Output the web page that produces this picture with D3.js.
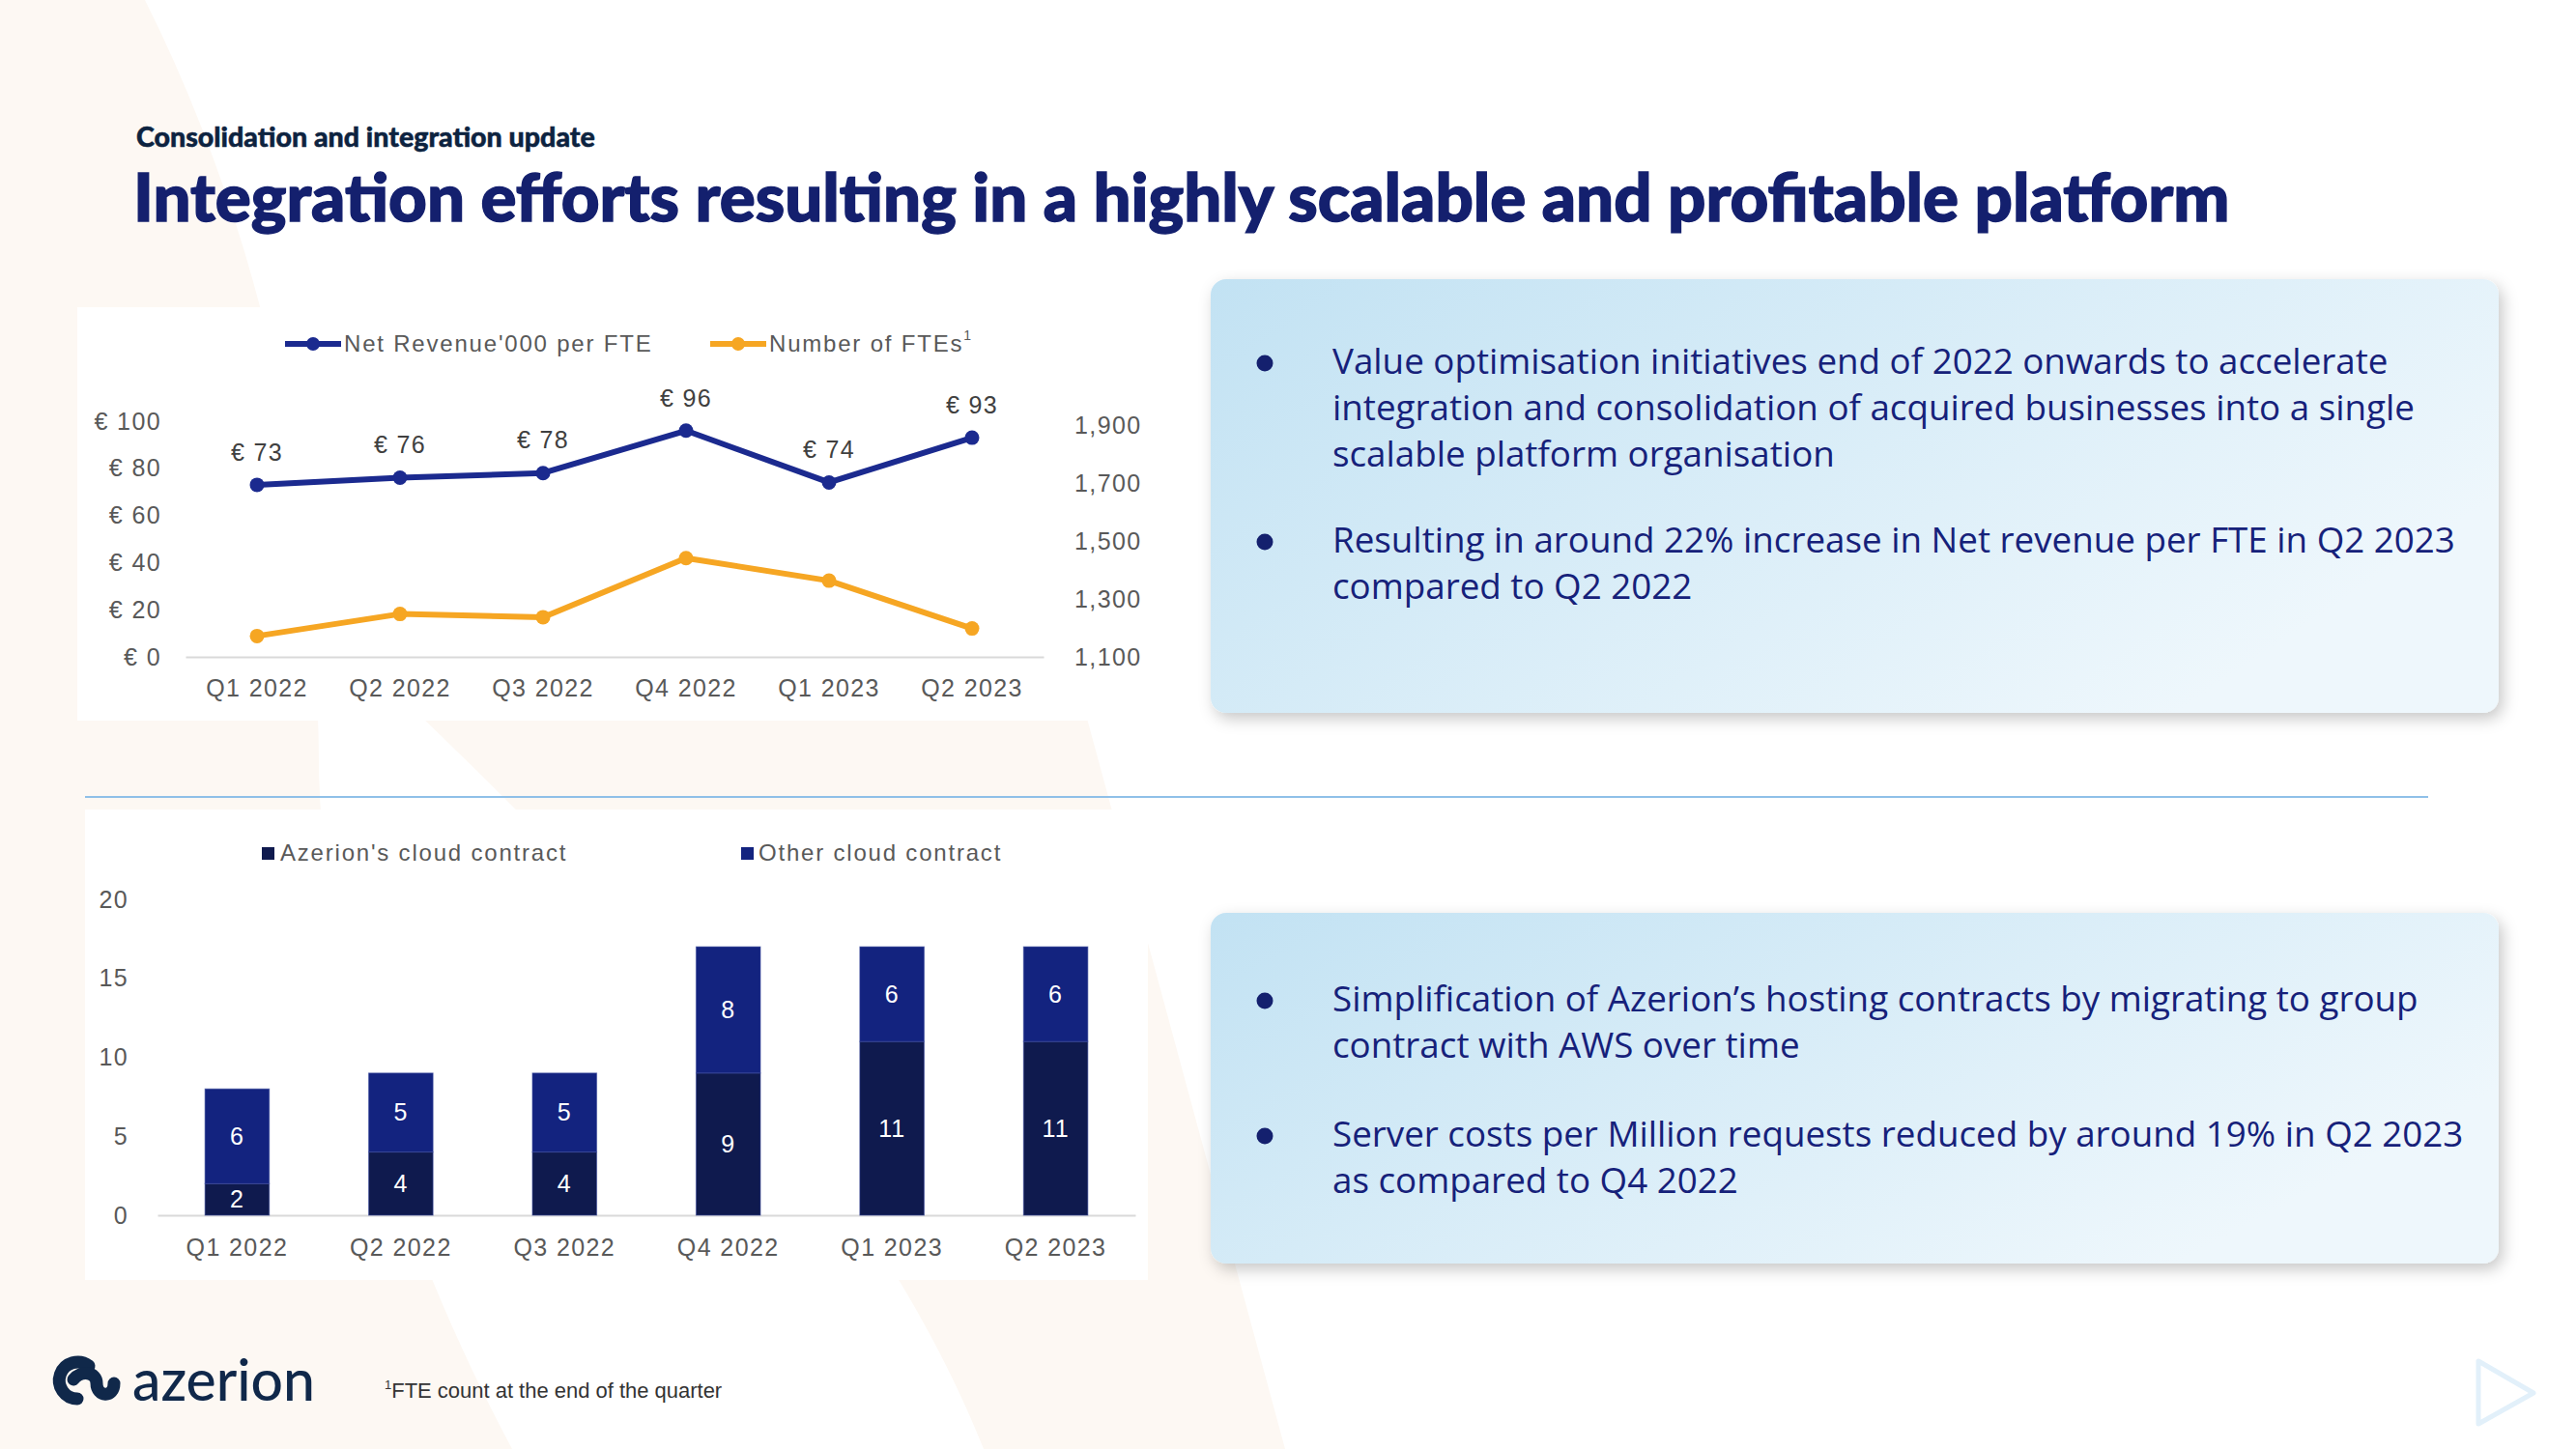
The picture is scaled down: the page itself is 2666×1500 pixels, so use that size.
<!DOCTYPE html>
<html><head><meta charset="utf-8">
<script src="https://cdn.jsdelivr.net/npm/d3@7"></script>
<style>html,body{margin:0;padding:0;background:#fff;overflow:hidden}svg{display:block}</style>
</head><body><div id="chart"></div>
<script>
// ---------- data ----------
const quarters = ["Q1 2022","Q2 2022","Q3 2022","Q4 2022","Q1 2023","Q2 2023"];
const revenuePerFte = [73,76,78,96,74,93];
const fteCount = [1172,1248,1237,1441,1363,1198];
const revenueTicks = [0,20,40,60,80,100];
const fteTicks = [1100,1300,1500,1700,1900];
const lineLegend = ["Net Revenue'000 per FTE","Number of FTEs"];
const azerionCloud = [2,4,4,9,11,11];
const otherCloud = [6,5,5,8,6,6];
const barTicks = [0,5,10,15,20];
const barLegend = ["Azerion's cloud contract","Other cloud contract"];
const subtitle = "Consolidation and integration update";
const title = "Integration efforts resulting in a highly scalable and profitable platform";
const box1Bullets = [
  ["Value optimisation initiatives end of 2022 onwards to accelerate",
   "integration and consolidation of acquired businesses into a single",
   "scalable platform organisation"],
  ["Resulting in around 22% increase in Net revenue per FTE in Q2 2023",
   "compared to Q2 2022"]
];
const box2Bullets = [
  ["Simplification of Azerion\u2019s hosting contracts by migrating to group",
   "contract with AWS over time"],
  ["Server costs per Million requests reduced by around 19% in Q2 2023",
   "as compared to Q4 2022"]
];
const footnote = "FTE count at the end of the quarter";

// ---------- setup ----------
const W = 2666, H = 1500;
const svg = d3.select("#chart").append("svg").attr("width", W).attr("height", H);
const defs = svg.append("defs");
const chartFont = "'Liberation Sans', Arial, sans-serif";
const bodyFont = "'Open Sans', 'Noto Sans', sans-serif";
const headFont = "Lato, 'Open Sans', sans-serif";
const NAVY = "#1b2a8f", ORANGE = "#f6a623", AXIS_TXT = "#595959";

// background
svg.append("rect").attr("width", W).attr("height", H).attr("fill", "#ffffff");
svg.append("path").attr("fill", "#fdf8f3")
  .attr("d", "M0,0 H150 C300,300 330,600 330,800 C340,1100 450,1350 530,1500 H0 Z");
svg.append("path").attr("fill", "#fdf8f3")
  .attr("d", "M434,740 L1124,740 L1330,1500 L1018,1500 C900,1200 600,900 434,740 Z");

// titles
const sub = svg.append("text").attr("x", 141).attr("y", 152)
  .attr("font-family", headFont).attr("font-weight", 900).attr("font-size", 24)
  .attr("fill", "#0d2340").attr("stroke", "#0d2340").attr("stroke-width", 0.5).text(subtitle);
sub.attr("font-size", 24 * 475 / sub.node().getComputedTextLength());
const ttl = svg.append("text").attr("x", 138).attr("y", 229)
  .attr("font-family", headFont).attr("font-weight", 900).attr("font-size", 56)
  .attr("fill", "#14206e").attr("stroke", "#14206e").attr("stroke-width", 1.4).text(title);
ttl.attr("font-size", 56 * 2170 / ttl.node().getComputedTextLength());

// ---------- line chart ----------
svg.append("rect").attr("x", 80).attr("y", 318).attr("width", 1110).attr("height", 428).attr("fill", "#fff");
const xL = d3.scaleBand().domain(quarters).range([192, 1080]);
const cx = q => xL(q) + xL.bandwidth() / 2;
const yL = d3.scaleLinear().domain([0, 100]).range([680, 436]);
const yR = d3.scaleLinear().domain([1100, 1900]).range([680, 440]);

function styleAxis(g) {
  g.select(".domain").remove();
  g.selectAll("text").attr("font-family", chartFont).attr("font-size", 25)
    .attr("letter-spacing", 1.4).attr("fill", AXIS_TXT);
}
svg.append("g").attr("transform", "translate(172,0)")
  .call(d3.axisLeft(yL).tickValues(revenueTicks).tickFormat(d => "€ " + d).tickSize(0).tickPadding(5))
  .call(styleAxis);
svg.append("g").attr("transform", "translate(1107,0)")
  .call(d3.axisRight(yR).tickValues(fteTicks).tickFormat(d3.format(",")).tickSize(0).tickPadding(5))
  .call(styleAxis);
const bx = svg.append("g").attr("transform", "translate(0,680)")
  .call(d3.axisBottom(xL).tickSize(0).tickSizeOuter(0).tickPadding(23));
bx.select(".domain").attr("stroke", "#d9d9d9").attr("stroke-width", 2);
bx.selectAll("text").attr("font-family", chartFont).attr("font-size", 25).attr("letter-spacing", 1.4).attr("fill", AXIS_TXT);

const revData = quarters.map((q, i) => ({q, v: revenuePerFte[i]}));
const fteData = quarters.map((q, i) => ({q, v: fteCount[i]}));
svg.append("path").datum(fteData).attr("fill", "none").attr("stroke", ORANGE).attr("stroke-width", 6)
  .attr("stroke-linejoin", "round").attr("d", d3.line().x(d => cx(d.q)).y(d => yR(d.v)));
svg.append("g").selectAll("circle").data(fteData).join("circle")
  .attr("cx", d => cx(d.q)).attr("cy", d => yR(d.v)).attr("r", 7.5).attr("fill", ORANGE);
svg.append("path").datum(revData).attr("fill", "none").attr("stroke", NAVY).attr("stroke-width", 6)
  .attr("stroke-linejoin", "round").attr("d", d3.line().x(d => cx(d.q)).y(d => yL(d.v)));
svg.append("g").selectAll("circle").data(revData).join("circle")
  .attr("cx", d => cx(d.q)).attr("cy", d => yL(d.v)).attr("r", 7.5).attr("fill", NAVY);
svg.append("g").selectAll("text").data(revData).join("text")
  .attr("x", d => cx(d.q)).attr("y", d => yL(d.v) - 34).attr("dy", "0.35em")
  .attr("text-anchor", "middle").attr("font-family", chartFont).attr("font-size", 25)
  .attr("letter-spacing", 1.3).attr("fill", "#404040").text(d => "€ " + d.v);

// line legend
const lg = svg.append("g").attr("font-family", chartFont).attr("font-size", 24).attr("letter-spacing", 1.8).attr("fill", AXIS_TXT);
[[295, 356, NAVY, lineLegend[0]], [735, 796, ORANGE, lineLegend[1]]].forEach(([x0, tx, c, t], i) => {
  lg.append("line").attr("x1", x0).attr("x2", x0 + 58).attr("y1", 356).attr("y2", 356).attr("stroke", c).attr("stroke-width", 6);
  lg.append("circle").attr("cx", x0 + 29).attr("cy", 356).attr("r", 7).attr("fill", c);
  const t1 = lg.append("text").attr("x", tx).attr("y", 356).attr("dy", "0.35em").text(t);
  if (i === 1) t1.append("tspan").attr("font-size", 14).attr("dy", "-0.9em").text("1");
});

// separator
svg.append("line").attr("x1", 88).attr("x2", 2513).attr("y1", 825).attr("y2", 825)
  .attr("stroke", "#8fc0e8").attr("stroke-width", 2);

// ---------- bar chart ----------
svg.append("rect").attr("x", 88).attr("y", 838).attr("width", 1100).attr("height", 487).attr("fill", "#fff");
const xB = d3.scaleBand().domain(quarters).range([163, 1175]).paddingInner(0.607).paddingOuter(0.29);
const yB = d3.scaleLinear().domain([0, 20]).range([1258, 931]);
const rows = quarters.map((q, i) => ({q, azerion: azerionCloud[i], other: otherCloud[i]}));
const stack = d3.stack().keys(["azerion", "other"])(rows);
const barColors = {azerion: "#0f1a4e", other: "#13237f"};
svg.append("g").attr("transform", "translate(138,0)")
  .call(d3.axisLeft(yB).tickValues(barTicks).tickSize(0).tickPadding(5))
  .call(styleAxis);
const bb = svg.append("g").attr("transform", "translate(0,1258)")
  .call(d3.axisBottom(xB).tickSize(0).tickSizeOuter(0).tickPadding(24));
bb.select(".domain").attr("stroke", "#d9d9d9").attr("stroke-width", 2);
bb.selectAll("text").attr("font-family", chartFont).attr("font-size", 25).attr("letter-spacing", 1.4).attr("fill", AXIS_TXT);
stack.forEach(layer => {
  const g = svg.append("g");
  g.selectAll("rect").data(layer).join("rect")
    .attr("x", d => xB(d.data.q)).attr("width", xB.bandwidth())
    .attr("y", d => yB(d[1])).attr("height", d => yB(d[0]) - yB(d[1]))
    .attr("fill", barColors[layer.key]).attr("stroke", "#3a4a9c").attr("stroke-width", 1).attr("stroke-opacity", 0.6);
  g.selectAll("text").data(layer).join("text")
    .attr("x", d => xB(d.data.q) + xB.bandwidth() / 2).attr("y", d => (yB(d[0]) + yB(d[1])) / 2)
    .attr("dy", "0.35em").attr("text-anchor", "middle").attr("font-family", chartFont)
    .attr("font-size", 25).attr("letter-spacing", 1).attr("fill", "#fff").text(d => d[1] - d[0]);
});
const blg = svg.append("g").attr("font-family", chartFont).attr("font-size", 24).attr("letter-spacing", 1.8).attr("fill", AXIS_TXT);
[[271, 290, barColors.azerion, barLegend[0]], [767, 785, barColors.other, barLegend[1]]].forEach(([x0, tx, c, t]) => {
  blg.append("rect").attr("x", x0).attr("y", 877).attr("width", 13).attr("height", 13).attr("fill", c);
  blg.append("text").attr("x", tx).attr("y", 883).attr("dy", "0.35em").text(t);
});

// ---------- text boxes ----------
const grad = defs.append("linearGradient").attr("id", "boxGrad").attr("x1", "0").attr("y1", "0").attr("x2", "1").attr("y2", "0.5");
grad.append("stop").attr("offset", "0").attr("stop-color", "#c2e2f3");
grad.append("stop").attr("offset", "1").attr("stop-color", "#eef7fc");
const sh = defs.append("filter").attr("id", "shadow").attr("x", "-10%").attr("y", "-10%").attr("width", "120%").attr("height", "130%");
sh.append("feDropShadow").attr("dx", 4).attr("dy", 6).attr("stdDeviation", 8).attr("flood-color", "#000").attr("flood-opacity", 0.22);

function textBox(y0, h, bullets, baselines) {
  svg.append("rect").attr("x", 1253).attr("y", y0).attr("width", 1333).attr("height", h)
    .attr("rx", 16).attr("fill", "url(#boxGrad)").attr("filter", "url(#shadow)");
  bullets.forEach((lines, bi) => {
    svg.append("circle").attr("cx", 1309).attr("cy", baselines[bi] - 11).attr("r", 8.5).attr("fill", "#14206e");
    lines.forEach((ln, li) => {
      svg.append("text").attr("class", "bullet").attr("x", 1379).attr("y", baselines[bi] + li * 48)
        .attr("font-family", bodyFont).attr("font-size", 32).attr("fill", "#16217a").text(ln);
    });
  });
}
textBox(289, 449, box1Bullets, [387, 572]);
textBox(945, 363, box2Bullets, [1047, 1187]);
const probe = svg.selectAll("text.bullet").filter((d, i) => i === 0);
const fs = 32 * 1093 / probe.node().getComputedTextLength();
svg.selectAll("text.bullet").attr("font-size", fs);

// ---------- footer ----------
const logo = svg.append("g").attr("fill", "none").attr("stroke", "#10284a");
logo.append("path").attr("stroke-width", 13).attr("stroke-linecap", "round")
  .attr("d", "M92,1414 A19,19 0 1 0 80,1448");
logo.append("path").attr("stroke-width", 13).attr("stroke-linecap", "round")
  .attr("d", "M76,1428 C84,1418 100,1420 100,1432 C100,1446 118,1448 118,1432");
const lt = svg.append("text").attr("x", 137).attr("y", 1450).attr("font-family", "Lato, 'Noto Sans', sans-serif")
  .attr("font-weight", 500).attr("font-size", 60).attr("fill", "#10284a").text("azerion");
lt.attr("textLength", 189).attr("lengthAdjust", "spacingAndGlyphs");
const fn = svg.append("text").attr("x", 398).attr("y", 1446).attr("font-family", chartFont)
  .attr("font-size", 22).attr("fill", "#333");
fn.append("tspan").attr("font-size", 13).attr("dy", "-0.6em").text("1");
const fnMain = fn.append("tspan").attr("dy", "0.4em").text(footnote);
fnMain.attr("font-size", 22 * 342 / fnMain.node().getComputedTextLength());
svg.append("path").attr("d", "M2565,1409 L2565,1474 L2622,1442 Z").attr("fill", "none")
  .attr("stroke", "#e2f0fa").attr("stroke-width", 5).attr("stroke-linejoin", "round");
</script></body></html>
